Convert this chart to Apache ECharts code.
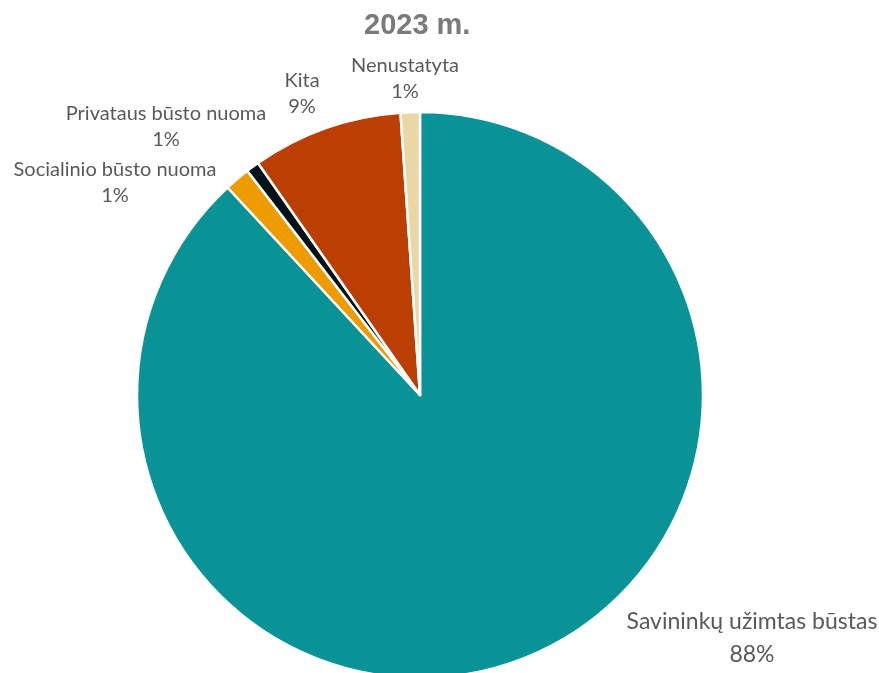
<!DOCTYPE html>
<html>
<head>
<meta charset="utf-8">
<script src="https://cdn.jsdelivr.net/npm/echarts@6/dist/echarts.min.js"></script>
<style>
  html, body { margin: 0; padding: 0; background: #fff; }
  #chart { width: 879px; height: 673px; }
</style>
</head>
<body>
<div id="chart"></div>
<script>
// duomenys (procentais)
var categories = ['Savininkų užimtas būstas', 'Socialinio būsto nuoma', 'Privataus būsto nuoma', 'Kita', 'Nenustatyta'];
var shares = [88.1, 1.45, 0.75, 8.6, 1.1];
var colors = ['#0a9396', '#ee9b00', '#001219', '#bb3e03', '#e9d8a6'];
// etikečių centrai (px), kaip Excel juos išdėliojo
var labelPos = [[752, 638], [115, 183], [166, 127], [302, 94], [405, 79]];

var myChart = echarts.init(document.getElementById('chart'));

var seriesData = [];
for (var i = 0; i < categories.length; i++) {
  seriesData.push({
    name: categories[i],
    value: shares[i],
    itemStyle: { color: colors[i] },
    label: i == 0 ? { fontSize: 23, lineHeight: 33 } : {}
  });
}

var option = {
  animation: false,
  title: {
    text: '2023 m.',
    left: 359,
    top: 6,
    textStyle: {
      fontFamily: 'Liberation Sans, Arial, sans-serif',
      fontSize: 29,
      fontWeight: 'bold',
      color: '#7a7a7a'
    }
  },
  series: [{
    type: 'pie',
    center: [420, 395],
    radius: 283,
    startAngle: 90,
    clockwise: true,
    data: seriesData,
    itemStyle: { borderColor: '#fff', borderWidth: 2.5 },
    label: {
      show: true,
      position: 'outside',
      fontFamily: 'Lato, sans-serif',
      fontSize: 20,
      lineHeight: 26,
      color: '#595959',
      align: 'center',
      overflow: 'none',
      formatter: function (p) {
        return p.name + '\n' + Math.round(p.value) + '%';
      }
    },
    labelLine: { show: false },
    labelLayout: function (params) {
      var pos = labelPos[params.dataIndex];
      return { x: pos[0], y: pos[1], align: 'center', verticalAlign: 'middle' };
    },
    emphasis: { disabled: true }
  }]
};
myChart.setOption(option);
</script>
</body>
</html>
